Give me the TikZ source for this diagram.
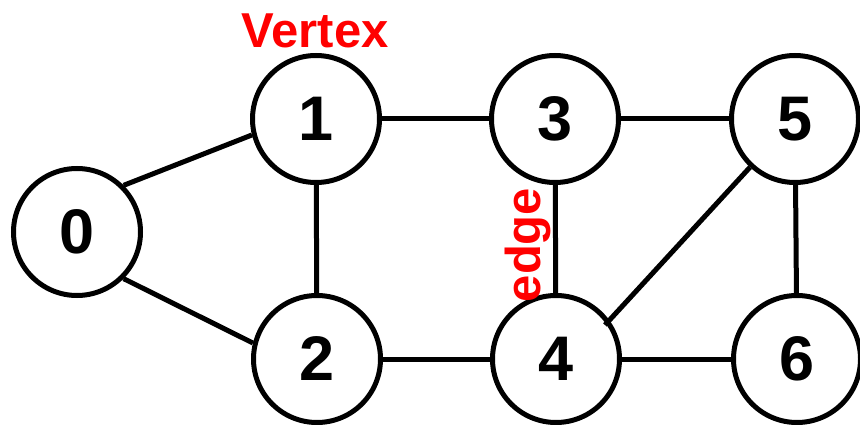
\documentclass[tikz,border=0pt]{standalone}
\usepackage{fontspec}
\setmainfont{Liberation Sans}
\begin{document}
\begin{tikzpicture}[x=1pt,y=-1pt,
  vert/.style={circle,draw=black,line width=5pt,minimum size=127pt,inner sep=0pt,
    font=\fontsize{63}{75}\selectfont\bfseries,fill=white},
  conn/.style={line width=5pt,black},
  lbl/.style={text=red,font=\fontsize{49}{58}\selectfont\bfseries,inner sep=0pt}]
\useasboundingbox (0,0) rectangle (860,425);
\node[vert] (0) at (77,232) {0};
\node[vert] (1) at (316,119) {1};
\node[vert] (2) at (317,359) {2};
\node[vert] (3) at (555,119) {3};
\node[vert] (4) at (556,359) {4};
\node[vert] (5) at (795,119) {5};
\node[vert] (6) at (797,359) {6};
\coordinate (e54) at (605,325);
\draw[conn] (0.45) -- (1.194);
\draw[conn] (0.-45) -- (2.166);
\draw[conn] (1) -- (2);
\draw[conn] (1) -- (3);
\draw[conn] (2) -- (4);
\draw[conn] (3) -- (4);
\draw[conn] (3) -- (5);
\draw[conn] (4) -- (6);
\draw[conn] (5) -- (6);
\draw[conn] (5.227) -- (e54);
\node[lbl,anchor=base] (vlbl) at (315,48) {Vertex};
\node[lbl,anchor=base,rotate=90] (elbl) at (540,245) {edge};
\end{tikzpicture}
\end{document}
